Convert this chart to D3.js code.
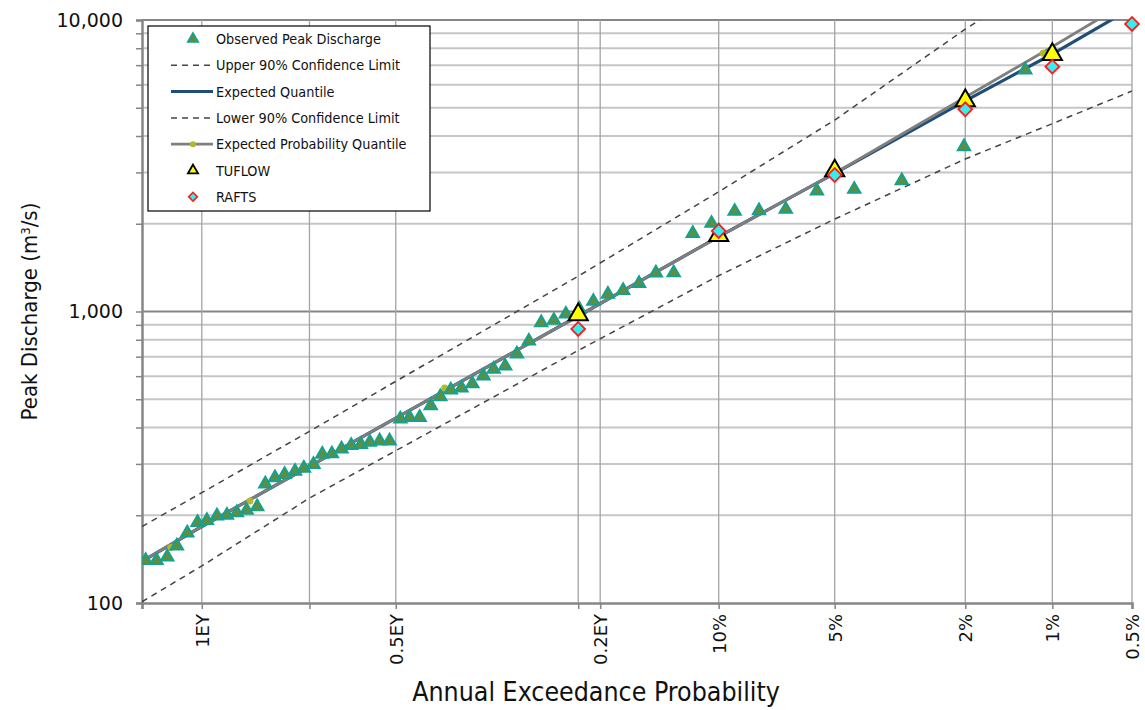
<!DOCTYPE html>
<html>
<head>
<meta charset="utf-8">
<script src="https://cdn.jsdelivr.net/npm/d3@7/dist/d3.min.js"></script>
<style>
  body { margin: 0; background: #fff; }
  svg { font-family: "DejaVu Sans Condensed", "DejaVu Sans", sans-serif; }
</style>
</head>
<body>
<div id="div_graph"></div>
<script>
// observed peaks: annual exceedance probability (plotting position) and discharge (m3/s)
var obsAep = [0.696, 0.684, 0.672, 0.661, 0.649, 0.637, 0.626, 0.614, 0.602, 0.590,
              0.578, 0.565, 0.555, 0.543, 0.531, 0.518, 0.507, 0.495, 0.484, 0.472,
              0.460, 0.448, 0.436, 0.425, 0.413, 0.401, 0.388, 0.377, 0.365, 0.352,
              0.341, 0.329, 0.317, 0.305, 0.293, 0.282, 0.270, 0.258, 0.246, 0.234,
              0.222, 0.211, 0.199, 0.187, 0.175, 0.163, 0.151, 0.139, 0.127, 0.115,
              0.104, 0.0915, 0.0796, 0.0679, 0.056, 0.044, 0.0318, 0.0202, 0.0125];
var obsQ = [140, 140, 144, 157, 174, 189, 192, 199, 200, 204,
            208, 214, 256, 269, 276, 283, 290, 299, 324, 325,
            338, 347, 350, 356, 360, 360, 428, 433, 433, 475,
            510, 538, 547, 565, 601, 634, 650, 715, 792, 915,
            933, 980, 1018, 1084, 1146, 1182, 1249, 1356, 1358, 1854,
            2007, 2207, 2217, 2242, 2591, 2626, 2810, 3675, 6737];

// fitted curves
var curveAep = [0.7, 0.632, 0.5, 0.3935, 0.2, 0.1, 0.05, 0.02, 0.01, 0.005];
var expectedQ = [139, 183, 294, 431, 965, 1806, 2979, 5283, 7643, 11000];
var expProbQ = [139, 183, 294, 431, 965, 1806, 2979, 5430, 8090, 11800];
var upperQ = [183, 239, 388, 576, 1322, 2574, 4536, 9300, 14500, 22000];
var lowerQ = [101, 134, 229, 333, 735, 1327, 2075, 3336, 4410, 5706];

// markers on the expected probability quantile line
var expProbDotAep = [0.668, 0.574, 0.5025, 0.336, 0.0108];
var expProbDotQ = [155, 224, 294, 547, 7690];

// model results
var tuflowAep = [0.2, 0.1, 0.05, 0.02, 0.01];
var tuflowQ = [975, 1825, 3040, 5290, 7625];
var raftsAep = [0.2, 0.1, 0.05, 0.02, 0.01, 0.005];
var raftsQ = [871, 1889, 2939, 4940, 6917, 9690];

// axes
var xDomainAep = [0.7, 0.005];
var tickAep = [0.7, 0.632, 0.5, 0.3935, 0.2, 0.1813, 0.1, 0.05, 0.02, 0.01, 0.005];
var tickLabels = ["", "1EY", "", "0.5EY", "", "0.2EY", "10%", "5%", "2%", "1%", "0.5%"];
var yTickValues = [100, 200, 300, 400, 500, 600, 700, 800, 900,
                   1000, 2000, 3000, 4000, 5000, 6000, 7000, 8000, 9000, 10000];
var yLabelled = [100, 1000, 10000];

var legendItems = ["Observed Peak Discharge", "Upper 90% Confidence Limit", "Expected Quantile",
                   "Lower 90% Confidence Limit", "Expected Probability Quantile", "TUFLOW", "RAFTS"];

// inverse standard normal (Acklam)
function probit(p)
{
  var a = [-3.969683028665376e+01, 2.209460984245205e+02, -2.759285104469687e+02, 1.383577518672690e+02, -3.066479806614716e+01, 2.506628277459239e+00];
  var b = [-5.447609879822406e+01, 1.615858368580409e+02, -1.556989798598866e+02, 6.680131188771972e+01, -1.328068155288572e+01];
  var c = [-7.784894002430293e-03, -3.223964580411365e-01, -2.400758277161838e+00, -2.549732539343734e+00, 4.374664141464968e+00, 2.938163982698783e+00];
  var d = [7.784695709041462e-03, 3.224671290700398e-01, 2.445134137142996e+00, 3.754408661907416e+00];
  var plow = 0.02425, q, r;
  if (p < plow)
  {
    q = Math.sqrt(-2 * Math.log(p));
    return (((((c[0]*q+c[1])*q+c[2])*q+c[3])*q+c[4])*q+c[5]) / ((((d[0]*q+d[1])*q+d[2])*q+d[3])*q+1);
  }
  if (p > 1 - plow)
  {
    q = Math.sqrt(-2 * Math.log(1 - p));
    return -(((((c[0]*q+c[1])*q+c[2])*q+c[3])*q+c[4])*q+c[5]) / ((((d[0]*q+d[1])*q+d[2])*q+d[3])*q+1);
  }
  q = p - 0.5;
  r = q * q;
  return (((((a[0]*r+a[1])*r+a[2])*r+a[3])*r+a[4])*r+a[5])*q / (((((b[0]*r+b[1])*r+b[2])*r+b[3])*r+b[4])*r+1);
}

function zOf(aep) { return probit(1 - aep); }

var margin = { top: 20, right: 13, bottom: 107, left: 142 };
var totalW = 1145, totalH = 710;
var width = totalW - margin.left - margin.right;
var height = totalH - margin.top - margin.bottom;

var svg = d3.select("#div_graph").append("svg")
    .attr("width", totalW).attr("height", totalH)
  .append("g")
    .attr("transform", "translate(" + margin.left + "," + margin.top + ")");

var xScale = d3.scaleLinear().domain(xDomainAep.map(zOf)).range([0, width]);
var yScale = d3.scaleLog().domain([100, 10000]).range([height, 0]);

function px(aep) { return xScale(zOf(aep)); }

svg.append("clipPath").attr("id", "plotclip")
  .append("rect").attr("x", 0).attr("y", 0).attr("width", width).attr("height", height);

// horizontal gridlines
svg.append("g").selectAll("line").data(yTickValues.filter(function(d) { return d > 100; }))
  .enter().append("line")
    .attr("x1", 0).attr("x2", width)
    .attr("y1", function(d) { return yScale(d); }).attr("y2", function(d) { return yScale(d); })
    .attr("stroke", function(d) { return yLabelled.indexOf(d) >= 0 ? "#868686" : "#c6c6c6"; })
    .attr("stroke-width", 2);

// vertical gridlines
svg.append("g").selectAll("line").data(tickAep.slice(1))
  .enter().append("line")
    .attr("x1", function(d) { return px(d); }).attr("x2", function(d) { return px(d); })
    .attr("y1", 0).attr("y2", height)
    .attr("stroke", "#a4a4a4")
    .attr("stroke-width", 1.3);

// axes
var yAxisCall = d3.axisLeft(yScale).tickValues(yTickValues).tickSize(6).tickPadding(13)
  .tickFormat(function(d) { return yLabelled.indexOf(d) >= 0 ? d3.format(",")(d) : ""; });
var gy = svg.append("g").attr("class", "y axis").call(yAxisCall);
gy.selectAll("text").style("font-family", "'DejaVu Sans', sans-serif").style("font-size", "19px").attr("fill", "#111");

var xAxisCall = d3.axisBottom(xScale).tickValues(tickAep.map(zOf)).tickSize(6)
  .tickFormat(function(d, i) { return tickLabels[i]; });
var gx = svg.append("g").attr("class", "x axis").attr("transform", "translate(0," + height + ")").call(xAxisCall);
gx.selectAll("text")
    .attr("transform", "rotate(-90)")
    .attr("x", -11).attr("y", 0).attr("dy", "0.35em")
    .style("text-anchor", "end")
    .style("font-family", "'DejaVu Sans', sans-serif")
    .style("font-size", "18px").attr("fill", "#111");

svg.selectAll(".axis .domain").attr("stroke", "#868686").attr("stroke-width", 2.5);
svg.selectAll(".axis .tick line").attr("stroke", "#868686").attr("stroke-width", 1.5);

// fitted lines
function curveLine(values)
{
  return d3.line()
    .x(function(d, i) { return px(curveAep[i]); })
    .y(function(d) { return yScale(d); })(values);
}

var plot = svg.append("g").attr("clip-path", "url(#plotclip)");

plot.append("path").attr("d", curveLine(upperQ))
  .attr("fill", "none").attr("stroke", "#444").attr("stroke-width", 1.5).attr("stroke-dasharray", "6,5");
plot.append("path").attr("d", curveLine(lowerQ))
  .attr("fill", "none").attr("stroke", "#444").attr("stroke-width", 1.5).attr("stroke-dasharray", "6,5");
plot.append("path").attr("d", curveLine(expectedQ))
  .attr("fill", "none").attr("stroke", "#1f4e79").attr("stroke-width", 3.2);
plot.append("path").attr("d", curveLine(expProbQ))
  .attr("fill", "none").attr("stroke", "#7f7f7f").attr("stroke-width", 2.8);

plot.selectAll(".epdot").data(expProbDotQ).enter().append("circle")
  .attr("class", "epdot")
  .attr("cx", function(d, i) { return px(expProbDotAep[i]); })
  .attr("cy", function(d) { return yScale(d); })
  .attr("r", 3.5).attr("fill", "#b5b82a");

var triObs = d3.symbol().type(d3.symbolTriangle).size(66);
var triTuflow = d3.symbol().type(d3.symbolTriangle).size(160);
var diamond = d3.symbol().type(d3.symbolSquare).size(95);

plot.selectAll(".obs").data(obsQ).enter().append("path")
  .attr("class", "obs")
  .attr("d", triObs)
  .attr("transform", function(d, i) { return "translate(" + px(obsAep[i]) + "," + yScale(d) + ")"; })
  .attr("fill", "#5f8f3c").attr("stroke", "#16a08f").attr("stroke-width", 2);

svg.selectAll(".tuflow").data(tuflowQ).enter().append("path")
  .attr("class", "tuflow")
  .attr("d", triTuflow)
  .attr("transform", function(d, i) { return "translate(" + px(tuflowAep[i]) + "," + yScale(d) + ")"; })
  .attr("fill", "#ffff00").attr("stroke", "#000").attr("stroke-width", 2);

svg.selectAll(".rafts").data(raftsQ).enter().append("path")
  .attr("class", "rafts")
  .attr("d", diamond)
  .attr("transform", function(d, i) { return "translate(" + px(raftsAep[i]) + "," + yScale(d) + ") rotate(45)"; })
  .attr("fill", "#33f0f0").attr("stroke", "#ff1a1a").attr("stroke-width", 1.8);

// legend
var lg = svg.append("g").attr("transform", "translate(" + (148 - margin.left) + "," + (26 - margin.top) + ")");
lg.append("rect").attr("x", 0).attr("y", 0).attr("width", 282).attr("height", 185)
  .attr("fill", "#fff").attr("stroke", "#000").attr("stroke-width", 1.2);

var rowY = function(i) { return 13 + i * 26.3; };
var symX = 45;
lg.selectAll(".ltext").data(legendItems).enter().append("text")
  .attr("class", "ltext")
  .attr("x", 68).attr("y", function(d, i) { return rowY(i); })
  .attr("dy", "0.35em")
  .style("font-size", "14.3px").attr("fill", "#111")
  .text(function(d) { return d; });

lg.append("path").attr("d", d3.symbol().type(d3.symbolTriangle).size(45)())
  .attr("transform", "translate(" + symX + "," + rowY(0) + ")")
  .attr("fill", "#5f8f3c").attr("stroke", "#16a08f").attr("stroke-width", 1.8);
[1, 3].forEach(function(i)
{
  lg.append("line").attr("x1", 23).attr("x2", 63).attr("y1", rowY(i)).attr("y2", rowY(i))
    .attr("stroke", "#444").attr("stroke-width", 1.5).attr("stroke-dasharray", "6,5");
});
lg.append("line").attr("x1", 23).attr("x2", 65).attr("y1", rowY(2)).attr("y2", rowY(2))
  .attr("stroke", "#1f4e79").attr("stroke-width", 3);
lg.append("line").attr("x1", 23).attr("x2", 65).attr("y1", rowY(4)).attr("y2", rowY(4))
  .attr("stroke", "#7f7f7f").attr("stroke-width", 2.8);
lg.append("circle").attr("cx", symX).attr("cy", rowY(4)).attr("r", 3).attr("fill", "#b5b82a");
lg.append("path").attr("d", d3.symbol().type(d3.symbolTriangle).size(45)())
  .attr("transform", "translate(" + symX + "," + rowY(5) + ")")
  .attr("fill", "#ffff00").attr("stroke", "#000").attr("stroke-width", 1.8);
lg.append("path").attr("d", d3.symbol().type(d3.symbolSquare).size(38)())
  .attr("transform", "translate(" + symX + "," + rowY(6) + ") rotate(45)")
  .attr("fill", "#33f0f0").attr("stroke", "#ff1a1a").attr("stroke-width", 1.6);

// axis titles
svg.append("text")
  .attr("x", 596 - margin.left).attr("y", height + 98)
  .style("text-anchor", "middle").style("font-size", "26.5px").attr("fill", "#111")
  .text("Annual Exceedance Probability");

var yt = svg.append("text")
  .attr("transform", "rotate(-90)")
  .attr("x", -height / 2).attr("y", -113)
  .attr("dy", "0.35em")
  .style("text-anchor", "middle").style("font-size", "22px").attr("fill", "#111");
yt.append("tspan").text("Peak Discharge (m");
yt.append("tspan").attr("baseline-shift", "super").style("font-size", "13px").text("3");
yt.append("tspan").text("/s)");
</script>
</body>
</html>
